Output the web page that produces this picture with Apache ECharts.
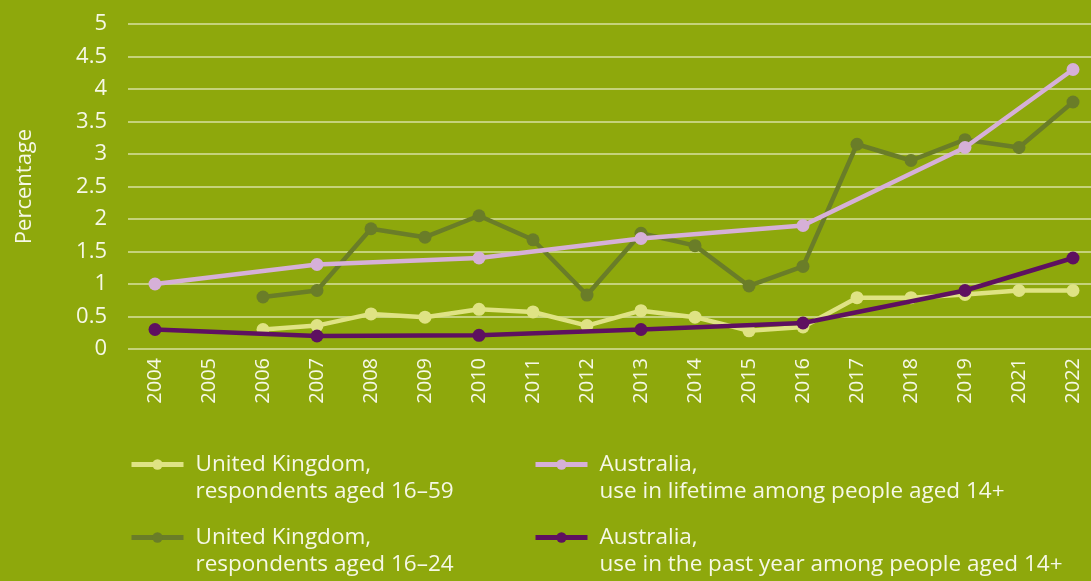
<!DOCTYPE html>
<html>
<head>
<meta charset="utf-8">
<script src="https://cdn.jsdelivr.net/npm/echarts@6/dist/echarts.min.js"></script>
<style>
  html, body { margin: 0; padding: 0; background: #8ea80c; }
  #chart { width: 1091px; height: 581px; }
</style>
</head>
<body>
<div id="chart"></div>
<script>
var years = ["2004", "2005", "2006", "2007", "2008", "2009", "2010", "2011", "2012",
  "2013", "2014", "2015", "2016", "2017", "2018", "2019", "2021", "2022"];
// UK, aged 16-59
var ukAll = [null, null, 0.3, 0.36, 0.54, 0.49, 0.61, 0.57, 0.36, 0.59, 0.49, 0.28, 0.34, 0.79, 0.79, 0.84, 0.9, 0.9];
// UK, aged 16-24
var ukYoung = [null, null, 0.8, 0.9, 1.85, 1.72, 2.05, 1.68, 0.83, 1.78, 1.59, 0.97, 1.27, 3.15, 2.9, 3.22, 3.1, 3.8];
// Australia, lifetime use
var auLife = [1.0, null, null, 1.3, null, null, 1.4, null, null, 1.7, null, null, 1.9, null, null, 3.1, null, 4.3];
// Australia, past year use
var auYear = [0.3, null, null, 0.2, null, null, 0.21, null, null, 0.3, null, null, 0.4, null, null, 0.9, null, 1.4];

var names = [
  "United Kingdom,\nrespondents aged 16\u201359",
  "United Kingdom,\nrespondents aged 16\u201324",
  "Australia,\nuse in lifetime among people aged 14+",
  "Australia,\nuse in the past year among people aged 14+"
];
var colors = ["#dfe384", "#6a7d28", "#d6b0d8", "#5e1060"];
var values = [ukAll, ukYoung, auLife, auYear];

var font = "'Open Sans', sans-serif";
var txt = "#f6f8e6";

var chart = echarts.init(document.getElementById("chart"));

var series = [];
values.forEach(function (v, i) {
  series.push({
    name: names[i],
    type: "line",
    xAxisIndex: 1,
    yAxisIndex: 1,
    data: v,
    connectNulls: true,
    symbol: "circle",
    symbolSize: 13,
    lineStyle: { width: 4.5, color: colors[i] },
    itemStyle: { color: colors[i] },
    z: i === 3 ? 4 : (i === 2 ? 3 : 2)
  });
});

// one legend per entry; a blank first line keeps the icon level with the first text line
function legendAt(i, left, top) {
  return {
    data: [names[i]],
    left: left,
    top: top,
    padding: 0,
    itemWidth: 52,
    itemHeight: 13,
    lineStyle: { width: 5 },
    formatter: function (n) { return " \n" + n; },
    textStyle: {
      color: txt,
      fontFamily: font,
      fontSize: 22.5,
      lineHeight: 27,
      padding: [0, 0, 0, 7]
    }
  };
}

chart.setOption({
  backgroundColor: "#8ea80c",
  animation: false,
  // grid 0 carries the gridlines (they run to the right edge), grid 1 the lines
  grid: [
    { left: 128, right: 0, top: 24, bottom: 232 },
    { left: 155, right: 18, top: 24, bottom: 232 }
  ],
  legend: [
    legendAt(0, 129, 424),
    legendAt(1, 129, 497),
    legendAt(2, 533, 424),
    legendAt(3, 533, 497)
  ],
  xAxis: [
    {
      gridIndex: 0,
      type: "category",
      data: years,
      show: false
    },
    {
      gridIndex: 1,
      type: "category",
      data: years,
      boundaryGap: false,
      axisLine: { show: false },
      axisTick: { show: false },
      splitLine: { show: false },
      axisLabel: {
        rotate: 90,
        margin: 9,
        color: txt,
        fontFamily: font,
        fontSize: 20,
        interval: 0
      }
    }
  ],
  yAxis: [
    {
      gridIndex: 0,
      type: "value",
      min: 0,
      max: 5,
      interval: 0.5,
      name: "Percentage",
      nameLocation: "middle",
      nameGap: 92,
      nameTextStyle: { color: txt, fontFamily: font, fontSize: 22 },
      axisLabel: {
        color: txt,
        fontFamily: font,
        fontSize: 22,
        margin: 21
      },
      splitLine: { lineStyle: { color: "rgba(255,255,240,0.65)", width: 1.5 } }
    },
    {
      gridIndex: 1,
      type: "value",
      min: 0,
      max: 5,
      interval: 0.5,
      show: false
    }
  ],
  series: series
});
</script>
</body>
</html>
